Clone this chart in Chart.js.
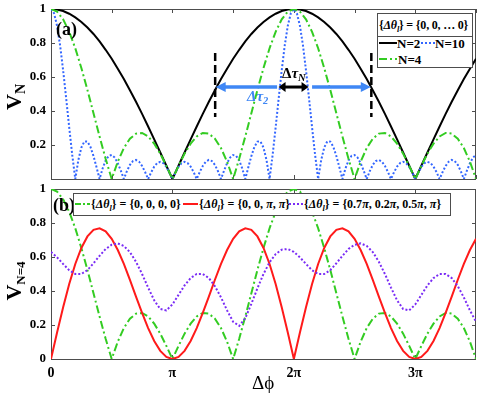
<!DOCTYPE html>
<html><head><meta charset="utf-8">
<script src="https://cdn.jsdelivr.net/npm/chart.js@4.4.1/dist/chart.umd.min.js"></script>
<style>
html,body{margin:0;padding:0;background:#fff;}
#wrap{position:relative;width:498px;height:399px;overflow:hidden;background:#fff;font-family:"Liberation Serif","Times New Roman",serif;}
canvas{position:absolute;left:0;}
.t{position:absolute;white-space:nowrap;font-weight:bold;color:#000;line-height:1;}
.box{position:absolute;background:#fff;border:1px solid #4d4d4d;box-sizing:border-box;}
sub{font-size:70%;vertical-align:baseline;position:relative;top:0.3em;}
svg{position:absolute;overflow:visible;}
</style></head>
<body>
<div id="wrap">
<canvas id="ca" width="498" height="185" style="top:0"></canvas>
<canvas id="cb" width="498" height="219" style="top:180px"></canvas>

<!-- panel labels -->
<div class="t" style="left:56px;top:20px;font-size:18px">(a)</div>
<div class="t" style="left:53px;top:196px;font-size:18px">(b)</div>

<!-- y titles -->
<div class="t" style="left:14px;top:97px;font-size:22px;transform:translate(-50%,-50%) rotate(-90deg)">V<sub style="font-size:14px">N</sub></div>
<div class="t" style="left:14px;top:281px;font-size:22px;transform:translate(-50%,-50%) rotate(-90deg)">V<sub style="font-size:13px">N=4</sub></div>
<!-- x title -->
<div class="t" style="left:252px;top:373px;font-size:19px;font-weight:normal">Δϕ</div>

<!-- annotation labels -->
<div class="t" style="left:282px;top:66px;font-size:15px">Δ<i>τ</i><sub><i>N</i></sub></div>
<div class="t" style="left:247px;top:89px;font-size:15px;color:#3f87f5"><i>Δτ</i><sub><i>2</i></sub></div>

<!-- top legend -->
<div class="box" style="left:377px;top:13px;width:96px;height:55px;"></div>
<div style="position:absolute;left:378px;top:36px;width:94px;height:1px;background:#4d4d4d"></div>
<div class="t" style="left:379px;top:19px;font-size:12px;letter-spacing:-0.2px">{<i>Δθ</i><sub><i>l</i></sub>} = {0, 0, … 0}</div>
<svg style="left:379px;top:41px" width="18" height="4"><line x1="0" y1="2" x2="18" y2="2" stroke="#000" stroke-width="2"/></svg>
<div class="t" style="left:397px;top:37px;font-size:13px">N=2</div>
<svg style="left:421px;top:41px" width="14" height="4"><line x1="0" y1="2" x2="14" y2="2" stroke="#3366ff" stroke-width="2" stroke-dasharray="2 2"/></svg>
<div class="t" style="left:435px;top:37px;font-size:13px">N=10</div>
<svg style="left:379px;top:57px" width="18" height="4"><line x1="0" y1="2" x2="18" y2="2" stroke="#33cc22" stroke-width="2" stroke-dasharray="8 3 2 3"/></svg>
<div class="t" style="left:398px;top:53px;font-size:13px">N=4</div>

<!-- bottom legend -->
<div class="box" style="left:73px;top:193px;width:378px;height:23px;"></div>
<svg style="left:75px;top:202px" width="15" height="4"><line x1="0" y1="2" x2="15" y2="2" stroke="#33cc22" stroke-width="2" stroke-dasharray="6 2 2 2"/></svg>
<div class="t" style="left:91px;top:198px;font-size:12px">{<i>Δθ</i><sub><i>l</i></sub>} = {0, 0, 0, 0}</div>
<svg style="left:183px;top:202px" width="15" height="4"><line x1="0" y1="2" x2="15" y2="2" stroke="#ff1a1a" stroke-width="2"/></svg>
<div class="t" style="left:199px;top:198px;font-size:12px">{<i>Δθ</i><sub><i>l</i></sub>} = {0, 0, <i>π</i>, <i>π</i>}</div>
<svg style="left:289px;top:202px" width="14" height="4"><line x1="0" y1="2" x2="14" y2="2" stroke="#7a2cf5" stroke-width="2" stroke-dasharray="2 2"/></svg>
<div class="t" style="left:304px;top:198px;font-size:12px">{<i>Δθ</i><sub><i>l</i></sub>} = {0.7<i>π</i>, 0.2<i>π</i>, 0.5<i>π</i>, <i>π</i>}</div>
</div>

<script>
// x positions in units of pi
const xGrid = [0,0.05,0.1,0.15,0.2,0.25,0.3,0.35,0.4,0.45,0.5,0.55,0.6,0.65,0.7,0.75,0.8,0.85,0.9,0.95,
  1,1.05,1.1,1.15,1.2,1.25,1.3,1.35,1.4,1.45,1.5,1.55,1.6,1.65,1.7,1.75,1.8,1.85,1.9,1.95,
  2,2.05,2.1,2.15,2.2,2.25,2.3,2.35,2.4,2.45,2.5,2.55,2.6,2.65,2.7,2.75,2.8,2.85,2.9,2.95,
  3,3.05,3.1,3.15,3.2,3.25,3.3,3.35,3.4,3.45,3.5];
const xFine = [0,0.025,0.05,0.075,0.1,0.125,0.15,0.175,0.2,0.225,0.25,0.275,0.3,0.325,0.35,0.375,0.4,0.425,0.45,0.475,
  0.5,0.525,0.55,0.575,0.6,0.625,0.65,0.675,0.7,0.725,0.75,0.775,0.8,0.825,0.85,0.875,0.9,0.925,0.95,0.975,
  1,1.025,1.05,1.075,1.1,1.125,1.15,1.175,1.2,1.225,1.25,1.275,1.3,1.325,1.35,1.375,1.4,1.425,1.45,1.475,
  1.5,1.525,1.55,1.575,1.6,1.625,1.65,1.675,1.7,1.725,1.75,1.775,1.8,1.825,1.85,1.875,1.9,1.925,1.95,1.975,
  2,2.025,2.05,2.075,2.1,2.125,2.15,2.175,2.2,2.225,2.25,2.275,2.3,2.325,2.35,2.375,2.4,2.425,2.45,2.475,
  2.5,2.525,2.55,2.575,2.6,2.625,2.65,2.675,2.7,2.725,2.75,2.775,2.8,2.825,2.85,2.875,2.9,2.925,2.95,2.975,
  3,3.025,3.05,3.075,3.1,3.125,3.15,3.175,3.2,3.225,3.25,3.275,3.3,3.325,3.35,3.375,3.4,3.425,3.45,3.475,3.5];

// panel (a)
const vN2 = [1.000,0.997,0.988,0.972,0.951,0.924,0.891,0.853,0.809,0.760,0.707,0.649,0.588,0.522,0.454,0.383,0.309,0.233,0.156,0.078,0.000,
  0.078,0.156,0.233,0.309,0.383,0.454,0.522,0.588,0.649,0.707,0.760,0.809,0.853,0.891,0.924,0.951,0.972,0.988,0.997,1.000,
  0.997,0.988,0.972,0.951,0.924,0.891,0.853,0.809,0.760,0.707,0.649,0.588,0.522,0.454,0.383,0.309,0.233,0.156,0.078,0.000,
  0.078,0.156,0.233,0.309,0.383,0.454,0.522,0.588,0.649,0.707];
const vN4 = [1.000,0.985,0.939,0.866,0.769,0.653,0.524,0.387,0.250,0.119,0.000,0.102,0.182,0.237,0.267,0.271,0.250,0.208,0.149,0.077,0.000,
  0.077,0.149,0.208,0.250,0.271,0.267,0.237,0.182,0.102,0.000,0.119,0.250,0.387,0.524,0.653,0.769,0.866,0.939,0.985,1.000,
  0.985,0.939,0.866,0.769,0.653,0.524,0.387,0.250,0.119,0.000,0.102,0.182,0.237,0.267,0.271,0.250,0.208,0.149,0.077,0.000,
  0.077,0.149,0.208,0.250,0.271,0.267,0.237,0.182,0.102,0.000];
const vN10 = [1.000,0.975,0.901,0.786,0.639,0.474,0.303,0.141,0.000,0.111,0.185,0.221,0.220,0.189,0.135,0.069,0.000,0.062,0.109,0.136,
  0.141,0.126,0.093,0.049,0.000,0.046,0.083,0.106,0.112,0.102,0.077,0.041,0.000,0.040,0.073,0.094,0.101,0.093,0.071,0.038,0.000,
  0.038,0.071,0.093,0.101,0.094,0.073,0.040,0.000,0.041,0.077,0.102,0.112,0.106,0.083,0.046,0.000,0.049,0.093,0.126,0.141,
  0.136,0.109,0.062,0.000,0.069,0.135,0.189,0.220,0.221,0.185,0.111,0.000,0.141,0.303,0.474,0.639,0.786,0.901,0.975,1.000,
  0.975,0.901,0.786,0.639,0.474,0.303,0.141,0.000,0.111,0.185,0.221,0.220,0.189,0.135,0.069,0.000,0.062,0.109,0.136,0.141,
  0.126,0.093,0.049,0.000,0.046,0.083,0.106,0.112,0.102,0.077,0.041,0.000,0.040,0.073,0.094,0.101,0.093,0.071,0.038,0.000,
  0.038,0.071,0.093,0.101,0.094,0.073,0.040,0.000,0.041,0.077,0.102,0.112,0.106,0.083,0.046,0.000,0.049,0.093,0.126,0.141];

// panel (b)
const vPhase0000 = vN4;
const vPhase00pp = [0.000,0.156,0.305,0.441,0.559,0.653,0.721,0.760,0.769,0.751,0.707,0.641,0.559,0.466,0.367,0.271,0.182,0.106,0.048,0.012,0.000,
  0.012,0.048,0.106,0.182,0.271,0.367,0.466,0.559,0.641,0.707,0.751,0.769,0.760,0.721,0.653,0.559,0.441,0.305,0.156,0.000,
  0.156,0.305,0.441,0.559,0.653,0.721,0.760,0.769,0.751,0.707,0.641,0.559,0.466,0.367,0.271,0.182,0.106,0.048,0.012,0.000,
  0.012,0.048,0.106,0.182,0.271,0.367,0.466,0.559,0.641,0.707];
const vPhaseMix = [0.630,0.598,0.559,0.522,0.500,0.500,0.523,0.563,0.607,0.647,
  0.672,0.680,0.665,0.629,0.572,0.500,0.420,0.345,0.294,0.286,
  0.321,0.377,0.433,0.476,0.500,0.500,0.476,0.428,0.362,0.286,
  0.219,0.195,0.240,0.324,0.416,0.500,0.569,0.617,0.643,0.647,
  0.630,0.598,0.559,0.522,0.500,0.500,0.523,0.563,0.607,0.647,
  0.672,0.680,0.665,0.629,0.572,0.500,0.420,0.345,0.294,0.286,
  0.321,0.377,0.433,0.476,0.500,0.500,0.476,0.428,0.362,0.286,
  0.219];

// ticks
const xTickVals = [0, 1, 2, 3];
const xTickLabels = ['0', 'π', '2π', '3π'];
const xMinorTicks = [0, 0.5, 1, 1.5, 2, 2.5, 3, 3.5];
const yTickVals = [0, 0.2, 0.4, 0.6, 0.8, 1];
const yTickLabelsA = ['', '0.2', '0.4', '0.6', '0.8', '1'];
const yTickLabelsB = ['0', '0.2', '0.4', '0.6', '0.8', '1'];

// annotation marks of panel (a), in data units (x in pi)
const spanLinesX = [1.352, 2.638];
const spanLinesY = [0.365, 0.741];
const spanArrowY = 0.541;
const blueArrowLeft = [1.862, 1.356];
const blueArrowRight = [2.150, 2.634];
const blackArrow = [1.874, 2.121];

const FONT = '"Liberation Serif","Times New Roman",serif';
const GREEN = '#33cc22', BLUE = '#3366ff', RED = '#ff1a1a', PURPLE = '#7a2cf5', ARROWBLUE = '#3f87f5';
Chart.defaults.font.family = FONT;

function pts(xs, ys) { return xs.map((x, i) => ({ x: x, y: ys[i] })); }
function labelFor(vals, labels) {
  return function (v) { const i = vals.findIndex(t => Math.abs(t - v) < 1e-6); return i < 0 ? null : labels[i]; };
}

const frame = {
  id: 'frame',
  beforeDatasetsDraw(chart, args, opts) {
    const { ctx, chartArea: a, scales: { x, y } } = chart;
    ctx.save();
    ctx.strokeStyle = '#4d4d4d';
    ctx.lineWidth = 1;
    ctx.beginPath();
    opts.xt.forEach(v => {
      const px = Math.round(x.getPixelForValue(v)) + 0.5;
      ctx.moveTo(px, a.top); ctx.lineTo(px, a.top + 4);
      ctx.moveTo(px, a.bottom); ctx.lineTo(px, a.bottom - 4);
    });
    yTickVals.forEach(v => {
      const py = Math.round(y.getPixelForValue(v)) + 0.5;
      ctx.moveTo(a.left, py); ctx.lineTo(a.left + 4, py);
      ctx.moveTo(a.right, py); ctx.lineTo(a.right - 4, py);
    });
    ctx.stroke();
    ctx.strokeRect(Math.round(a.left) + 0.5, Math.round(a.top) + 0.5, Math.round(a.right - a.left) - 1, Math.round(a.bottom - a.top));
    ctx.restore();
  }
};

function arrowHead(ctx, x1, y1, x2, y2, len, hw) {
  const ang = Math.atan2(y2 - y1, x2 - x1);
  ctx.beginPath();
  ctx.moveTo(x2, y2);
  ctx.lineTo(x2 - len * Math.cos(ang) + hw * Math.sin(ang), y2 - len * Math.sin(ang) - hw * Math.cos(ang));
  ctx.lineTo(x2 - len * Math.cos(ang) - hw * Math.sin(ang), y2 - len * Math.sin(ang) + hw * Math.cos(ang));
  ctx.closePath();
  ctx.fill();
}
function arrow(ctx, x1, y1, x2, y2, color, w, len, hw, both) {
  const ang = Math.atan2(y2 - y1, x2 - x1);
  ctx.strokeStyle = color; ctx.fillStyle = color; ctx.lineWidth = w;
  ctx.beginPath();
  ctx.moveTo(both ? x1 + (len - 1) * Math.cos(ang) : x1, y1);
  ctx.lineTo(x2 - (len - 1) * Math.cos(ang), y2 - (len - 1) * Math.sin(ang));
  ctx.stroke();
  arrowHead(ctx, x1, y1, x2, y2, len, hw);
  if (both) arrowHead(ctx, x2, y2, x1, y1, len, hw);
}

const annot = {
  id: 'annot',
  afterDatasetsDraw(chart) {
    const { ctx, scales: { x, y } } = chart;
    ctx.save();
    ctx.strokeStyle = '#000';
    ctx.lineWidth = 2.5;
    ctx.setLineDash([8, 4]);
    spanLinesX.forEach(v => {
      const px = x.getPixelForValue(v);
      ctx.beginPath();
      ctx.moveTo(px, y.getPixelForValue(spanLinesY[1]));
      ctx.lineTo(px, y.getPixelForValue(spanLinesY[0]));
      ctx.stroke();
    });
    ctx.setLineDash([]);
    const ay = y.getPixelForValue(spanArrowY);
    arrow(ctx, x.getPixelForValue(blueArrowLeft[0]), ay, x.getPixelForValue(blueArrowLeft[1]), ay, ARROWBLUE, 3.5, 10, 5, false);
    arrow(ctx, x.getPixelForValue(blueArrowRight[0]), ay, x.getPixelForValue(blueArrowRight[1]), ay, ARROWBLUE, 3.5, 10, 5, false);
    arrow(ctx, x.getPixelForValue(blackArrow[0]), ay, x.getPixelForValue(blackArrow[1]), ay, '#000', 3, 7, 5, true);
    ctx.restore();
  }
};

const tickFont = { family: FONT, size: 13, weight: 'bold' };

function yScale(labels) {
  return {
    min: 0, max: 1,
    ticks: { stepSize: 0.2, font: tickFont, color: '#000', padding: 5, callback: labelFor(yTickVals, labels) },
    grid: { display: false, drawTicks: false },
    border: { display: false },
    afterFit(s) { s.width = 51; s.paddingTop = 0; s.paddingBottom = 0; }
  };
}

const common = {
  responsive: false, animation: false, devicePixelRatio: 1,
  elements: { point: { radius: 0 }, line: { borderWidth: 2, tension: 0, fill: false } },
  events: []
};

new Chart(document.getElementById('ca'), {
  type: 'line',
  data: {
    datasets: [
      { label: 'N=4', data: pts(xGrid, vN4), borderColor: GREEN, borderDash: [8, 3, 2, 3], order: 0 },
      { label: 'N=10', data: pts(xFine, vN10), borderColor: BLUE, borderDash: [2, 2], order: 1 },
      { label: 'N=2', data: pts(xGrid, vN2), borderColor: '#000', order: 2 }
    ]
  },
  options: Object.assign({}, common, {
    layout: { padding: { left: 0, right: 22, top: 9, bottom: 6 } },
    plugins: { legend: { display: false }, tooltip: { enabled: false }, frame: { xt: xMinorTicks } },
    scales: {
      x: { type: 'linear', min: 0, max: 3.5, display: false },
      y: yScale(yTickLabelsA)
    }
  }),
  plugins: [frame, annot]
});

new Chart(document.getElementById('cb'), {
  type: 'line',
  data: {
    datasets: [
      { label: '{Δθl} = {0,0,0,0}', data: pts(xGrid, vPhase0000), borderColor: GREEN, borderDash: [8, 3, 2, 3], order: 2 },
      { label: '{Δθl} = {0,0,π,π}', data: pts(xGrid, vPhase00pp), borderColor: RED, order: 1 },
      { label: '{Δθl} = {0.7π,0.2π,0.5π,π}', data: pts(xGrid, vPhaseMix), borderColor: PURPLE, borderDash: [2, 2], order: 0 }
    ]
  },
  options: Object.assign({}, common, {
    layout: { padding: { left: 0, right: 22, top: 9, bottom: 0 } },
    plugins: { legend: { display: false }, tooltip: { enabled: false }, frame: { xt: xTickVals } },
    scales: {
      x: {
        type: 'linear', min: 0, max: 3.5,
        ticks: { stepSize: 1, font: { family: FONT, size: 14, weight: 'bold' }, color: '#000', padding: 6, maxRotation: 0, autoSkip: false, callback: labelFor(xTickVals, xTickLabels) },
        grid: { display: false, drawTicks: false },
        border: { display: false },
        afterFit(s) { s.height = 40; s.paddingLeft = 0; s.paddingRight = 0; }
      },
      y: yScale(yTickLabelsB)
    }
  }),
  plugins: [frame]
});
</script>
</body></html>
